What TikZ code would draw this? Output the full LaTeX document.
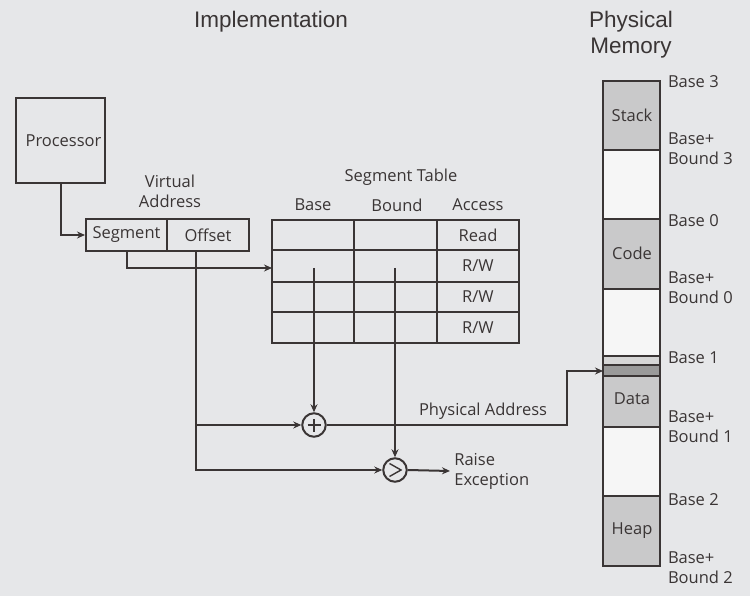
\documentclass[tikz,border=0pt]{standalone}
\usepackage{fontspec}
\setmainfont{Open Sans}
\newfontfamily\titlefont{Liberation Sans}
\usetikzlibrary{arrows.meta}
\definecolor{bg}{HTML}{E6E7E9}
\definecolor{ink}{HTML}{3A3535}
\definecolor{blk}{HTML}{C9C9CA}
\definecolor{dk}{HTML}{9A9A9A}
\definecolor{lt}{HTML}{D6D6D6}
\definecolor{wh}{HTML}{F6F6F6}
\begin{document}
\begin{tikzpicture}[x=1pt,y=-1pt,
  line width=2pt,
  every node/.style={text=ink, font=\fontsize{16.5}{20}\selectfont},
  title/.style={font=\titlefont\fontsize{22.5}{26}\selectfont, align=center},
  box/.style={draw=ink, inner sep=0pt},
  arr/.style={draw=ink, -{Stealth[length=8pt,width=7pt]}},
  ln/.style={draw=ink},
  op/.style={draw=ink, circle, minimum size=23.5pt, inner sep=0pt},
  sym/.style={draw=ink, line width=1.4pt},
  memlbl/.style={anchor=west, align=left, inner sep=0pt}]
\fill[bg] (0,0) rectangle (750,596);
\useasboundingbox (0,0) rectangle (750,596);

% titles
\node[title] (impl) at (271,22) {Implementation};
\node[title] (pmem) at (631,35) {Physical\\Memory};

% processor
\node[box, minimum width=89pt, minimum height=85pt] (proc) at (60.5,140.5) {\hspace*{6pt}Processor};

% virtual address
\node[align=center] (va) at (170,191) {Virtual\\Address};
\node[box, minimum width=81pt, minimum height=32pt] (seg) at (126.5,235) {Segment};
\node[box, minimum width=82pt, minimum height=32pt] (off) at (208,235) {Offset};
\coordinate (ofs) at (196,251);

% segment table
\node (st) at (401,177) {Segment Table};
\node (hb) at (313,205) {Base};
\node (hbd) at (397,205) {Bound};
\node (ha) at (478,205) {Access};
\draw[ln] (272,220) rectangle (519,343);
\draw[ln] (354,220) -- (354,343) (437,220) -- (437,343);
\draw[ln] (272,250) -- (519,250) (272,282) -- (519,282) (272,312) -- (519,312);
\node (r0) at (478,235) {Read};
\node (r1) at (478,266) {R/W};
\node (r2) at (478,297) {R/W};
\node (r3) at (478,327.5) {R/W};
\coordinate (tin) at (272,268);
\coordinate (bs) at (314,268);
\coordinate (bd) at (395,268);

% operators
\node[op] (plus) at (314,425) {};
\draw[sym] ([xshift=-6.5pt]plus.center) -- ([xshift=6.5pt]plus.center)
           ([yshift=-6.5pt]plus.center) -- ([yshift=6.5pt]plus.center);
\node[op] (gt) at (395,470) {};
\draw[sym] ([shift={(-5.5pt,-6.5pt)}]gt.center) -- ([shift={(6pt,0pt)}]gt.center) -- ([shift={(-5.5pt,6.5pt)}]gt.center);
\node (pa) at (483,411) {Physical Address};
\node[anchor=west, align=left] (rx) at (450,471) {Raise\\Exception};

% connectors
\draw[arr] (proc.south) |- (seg.west);
\draw[arr] (seg.south) |- (tin);
\draw[arr] (bs) -- (plus.north);
\draw[arr] (bd) -- (gt.north);
\draw[arr] (ofs) |- (gt.west);
\draw[arr] (ofs |- plus) -- (plus.west);
\draw[arr] (gt.east) -- (rx.west);
\coordinate (pm) at (603,371);
\draw[arr] (plus.east) -- (567,425) |- (pm);

% physical memory
\fill[wh] (603,81) rectangle (660,566);
\fill[blk] (603,81) rectangle (660,150);
\fill[blk] (603,219) rectangle (660,289);
\fill[lt] (603,356) rectangle (660,365);
\fill[dk] (603,365) rectangle (660,376);
\fill[blk] (603,376) rectangle (660,427);
\fill[blk] (603,496) rectangle (660,566);
\draw[ln] (603,81) rectangle (660,566);
\foreach \yy in {150,219,289,356,365,376,427,496} \draw[ln] (603,\yy) -- (660,\yy);
\node (stack) at (632,115) {Stack};
\node (code) at (632,253) {Code};
\node (data) at (632,399) {Data};
\node (heap) at (632,531) {Heap};

\node[memlbl] (b3) at (667,82) {Base 3};
\node[memlbl] (bb3) at (667,149) {Base+\\Bound 3};
\node[memlbl] (b0) at (667,221) {Base 0};
\node[memlbl] (bb0) at (667,288) {Base+\\Bound 0};
\node[memlbl] (b1) at (667,358) {Base 1};
\node[memlbl] (bb1) at (667,427) {Base+\\Bound 1};
\node[memlbl] (b2) at (667,500) {Base 2};
\node[memlbl] (bb2) at (667,568) {Base+\\Bound 2};
\end{tikzpicture}
\end{document}
